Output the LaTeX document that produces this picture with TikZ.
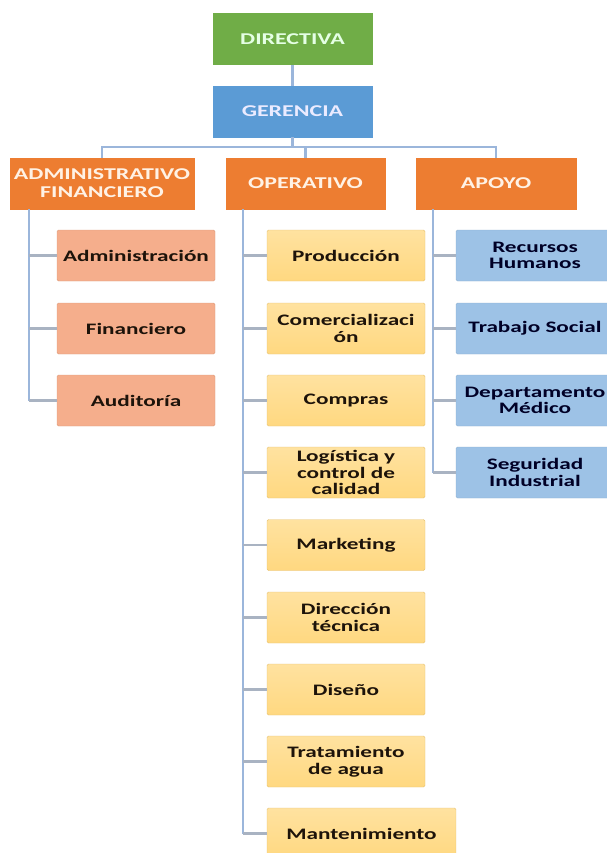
\documentclass[tikz,border=0pt]{standalone}
\usepackage{fontspec}
\setmainfont{Carlito}[FakeStretch=1.45]
\definecolor{cgreen}{HTML}{70AD47}
\definecolor{cblue}{HTML}{5B9BD5}
\definecolor{corange}{HTML}{ED7D31}
\definecolor{csalmon}{HTML}{F5AE8C}
\definecolor{cyellow}{HTML}{FFD880}
\definecolor{cyellowtop}{HTML}{FFE2A0}
\definecolor{clblue}{HTML}{9DC2E6}
\definecolor{cline}{HTML}{9BB6DB}
\definecolor{cstub}{HTML}{A9B3C2}
\tikzset{
  box/.style={rectangle, inner sep=0pt, align=center, minimum height=51pt, minimum width=158pt},
  head/.style={box, fill=#1, draw=#1, font=\fontsize{16.5}{18}\selectfont\bfseries},
  child/.style={box, rounded corners=1.5pt, font=\fontsize{16}{16.5}\selectfont\bfseries},
  achild/.style={child, fill=csalmon, draw=csalmon!90!black, text=black!85!brown},
  ochild/.style={child, top color=cyellowtop, bottom color=cyellow, draw=cyellow!90!black, text=black!85!brown},
  pchild/.style={child, fill=clblue, draw=clblue!90!black, text=black!85!blue},
  conn/.style={draw=cline, line width=2.2pt},
  stub/.style={draw=cstub, line width=2.2pt}
}
\begin{document}
\begin{tikzpicture}[x=1pt,y=-1pt]
\useasboundingbox (0,0) rectangle (606,853);
% top levels
\node[head=cgreen, text=green!10!white, minimum width=159pt] (dir) at (292.5,39) {DIRECTIVA};
\node[head=cblue, text=blue!8!white, minimum width=159pt] (ger) at (292.5,111.5) {GERENCIA};
\node[head=corange, text=orange!10!white, minimum width=184pt] (adm) at (102,183.5) {ADMINISTRATIVO\\FINANCIERO};
\node[head=corange, text=orange!10!white, minimum width=159pt] (ope) at (305.5,183.5) {OPERATIVO};
\node[head=corange, text=orange!10!white, minimum width=160pt] (apo) at (496,183.5) {APOYO};
% admin children
\node[achild] (a1) at (136,255.5) {Administración};
\node[achild] (a2) at (136,328.5) {Financiero};
\node[achild] (a3) at (136,400.5) {Auditoría};
% operativo children
\node[ochild] (o1) at (346,255.5) {Producción};
\node[ochild] (o2) at (346,328.5) {Comercializaci\\ón};
\node[ochild] (o3) at (346,400.5) {Compras};
\node[ochild] (o4) at (346,472.5) {Logística y\\control de\\calidad};
\node[ochild] (o5) at (346,545) {Marketing};
\node[ochild] (o6) at (346,617.5) {Dirección\\técnica};
\node[ochild] (o7) at (346,689.5) {Diseño};
\node[ochild] (o8) at (346,761.5) {Tratamiento\\de agua};
\node[ochild, minimum width=189pt] (o9) at (361.5,833.5) {Mantenimiento};
% apoyo children
\node[pchild] (p1) at (535,255.5) {Recursos\\Humanos};
\node[pchild] (p2) at (535,328.5) {Trabajo Social};
\node[pchild] (p3) at (535,400.5) {Departamento\\Médico};
\node[pchild] (p4) at (535,472.5) {Seguridad\\Industrial};
% connectors
\draw[conn] (dir.south) -- (ger.north);
\coordinate (bus) at ([yshift=-9.5pt]ger.south);
\draw[conn] (ger.south) -- (bus);
\draw[conn] (bus) -| (adm.north);
\draw[conn] (bus) -| (ope.north);
\draw[conn] (bus) -| (apo.north);
\coordinate (av) at ([xshift=19pt]adm.south west);
\coordinate (ov) at ([xshift=17pt]ope.south west);
\coordinate (pv) at ([xshift=17pt]apo.south west);
\draw[conn] (av) -- (av |- a3.west);
\foreach \c in {a1,a2,a3} \draw[stub] (av |- \c.west) -- (\c.west);
\draw[conn] (ov) -- (ov |- o9.west);
\foreach \c in {o1,o2,o3,o4,o5,o6,o7,o8,o9} \draw[stub] (ov |- \c.west) -- (\c.west);
\draw[conn] (pv) -- (pv |- p4.west);
\foreach \c in {p1,p2,p3,p4} \draw[stub] (pv |- \c.west) -- (\c.west);
\end{tikzpicture}
\end{document}
